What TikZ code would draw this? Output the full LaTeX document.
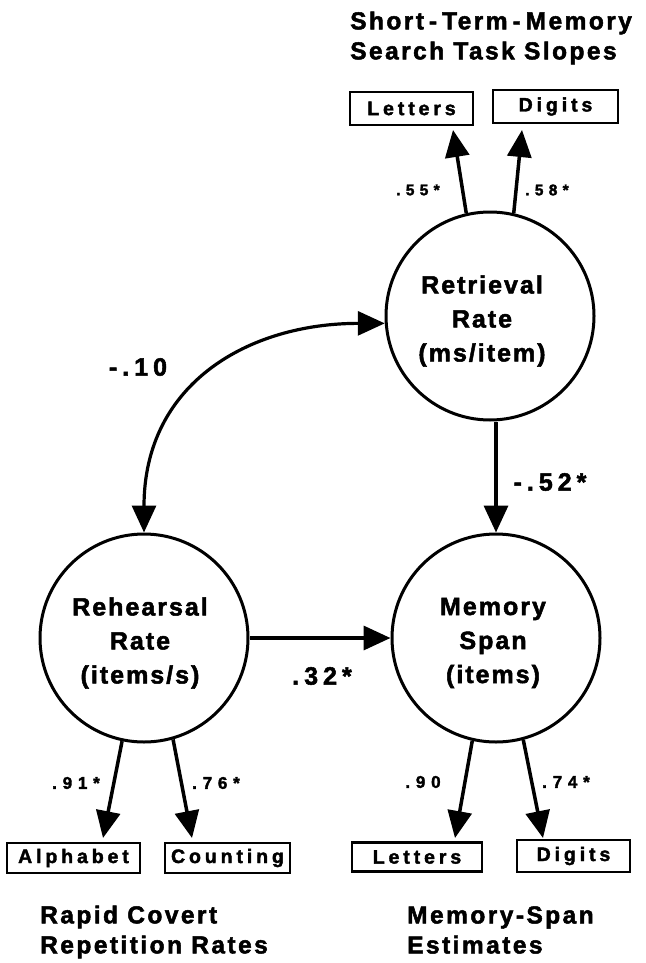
\documentclass[tikz,border=0pt]{standalone}
\usepackage{fontspec}
\setmainfont{Liberation Sans}
\newfontfamily\fcirc{Liberation Sans}[LetterSpace=8,BoldFeatures={FakeBold=2}]
\newfontfamily\fcapt{Liberation Sans}[LetterSpace=10,BoldFeatures={FakeBold=2}]
\newfontfamily\fbx{Liberation Sans}[LetterSpace=20,BoldFeatures={FakeBold=2}]
\newfontfamily\fbig{Liberation Sans}[LetterSpace=20,BoldFeatures={FakeBold=2}]
\newfontfamily\fsml{Liberation Sans}[LetterSpace=34,BoldFeatures={FakeBold=2}]
\usetikzlibrary{arrows.meta}
\begin{document}
\begin{tikzpicture}[x=1pt,y=-1pt,
  latent/.style={circle, draw, line width=3pt, minimum size=208pt, inner sep=0pt},
  lattext/.style={align=center, inner sep=0pt,
    font=\fcirc\bfseries\fontsize{25}{34}\selectfont},
  obs/.style={draw, line width=2.2pt, inner sep=0pt,
    font=\fbx\bfseries\fontsize{19.5}{21}\selectfont},
  bigl/.style={font=\fbig\bfseries\fontsize{25}{30}\selectfont, inner sep=0pt},
  smll/.style={font=\fsml\bfseries\fontsize{17}{19}\selectfont, inner sep=0pt},
  tinl/.style={font=\fsml\bfseries\fontsize{15.5}{17}\selectfont, inner sep=0pt},
  capt/.style={font=\fcapt\bfseries\fontsize{24.5}{30}\selectfont, align=left,
    inner sep=0pt, anchor=west},
  arr/.style={-{Triangle[length=27pt,width=24pt]}, line width=3.5pt},
  dbl/.style={{Triangle[length=27pt,width=24pt]}-{Triangle[length=27pt,width=24pt]},
    line width=3.2pt}
]
\useasboundingbox[fill=white] (0,0) rectangle (645,963);

% latent variables
\node[latent] (ret) at (490,316) {};
\node[latent] (reh) at (144,638) {};
\node[latent] (mem) at (496,638) {};
\node[lattext] (retT) at (482,321) {Retrieval\\Rate\\(ms/item)};
\node[lattext] (rehT) at (140,643) {Rehearsal\\Rate\\(items/s)};
\node[lattext] (memT) at (493,643) {Memory\\Span\\(items)};

% observed measures
\node[obs, minimum width=123pt, minimum height=33pt] (sL) at (411.5,108.5) {Letters};
\node[obs, minimum width=125pt, minimum height=33pt] (sD) at (555.5,106.5) {Digits};
\node[obs, minimum width=133pt, minimum height=30pt] (alp) at (73.5,858) {Alphabet};
\node[obs, minimum width=125pt, minimum height=30pt] (cnt) at (227.5,858) {Counting};
\node[obs, minimum width=130pt, minimum height=29pt] (mL) at (417,857) {Letters};
\node[obs, minimum width=113pt, minimum height=32pt] (mD) at (573.5,856) {Digits};

% arrow tip points just outside the boxes
\coordinate (tSL) at (453,130);
\coordinate (tSD) at (522,130);
\coordinate (tAl) at (103,838);
\coordinate (tCn) at (192,838);
\coordinate (tML) at (455,838);
\coordinate (tMD) at (543,838);

% connectors
\draw[arr] (ret.103) -- (tSL);
\draw[arr] (ret.77) -- (tSD);
\draw[arr] (reh.-102) -- (tAl);
\draw[arr] (reh.-74) -- (tCn);
\draw[arr] (mem.-103) -- (tML);
\draw[arr] (mem.-75) -- (tMD);
\draw[arr] (ret.south -| mem.north) -- (mem.north);
\draw[arr] (reh) -- (mem);
\draw[dbl] (reh.north) .. controls +(0,-150) and +(-135,0) .. (ret.184);

% coefficients
\node[tinl] (l55) at (418,190) {.55*};
\node[tinl] (l58) at (547,190) {.58*};
\node[bigl] (l10) at (138,367) {-.10};
\node[bigl] (l52) at (550,482) {-.52*};
\node[bigl] (l32) at (322,676) {.32*};
\node[smll] (l91) at (76,783) {.91*};
\node[smll] (l76) at (216,783) {.76*};
\node[smll] (l90) at (423,782) {.90};
\node[smll] (l74) at (566,782) {.74*};

% group captions
\node[capt] (ttl) at (350,38) {Short\hspace{5pt}-\hspace{5pt}Term\hspace{5pt}-\hspace{5pt}Memory\\Search Task Slopes};
\node[capt] (rcr) at (40,932) {Rapid Covert\\Repetition Rates};
\node[capt] (mse) at (407,930) {Memory-Span\\Estimates};
\end{tikzpicture}
\end{document}
